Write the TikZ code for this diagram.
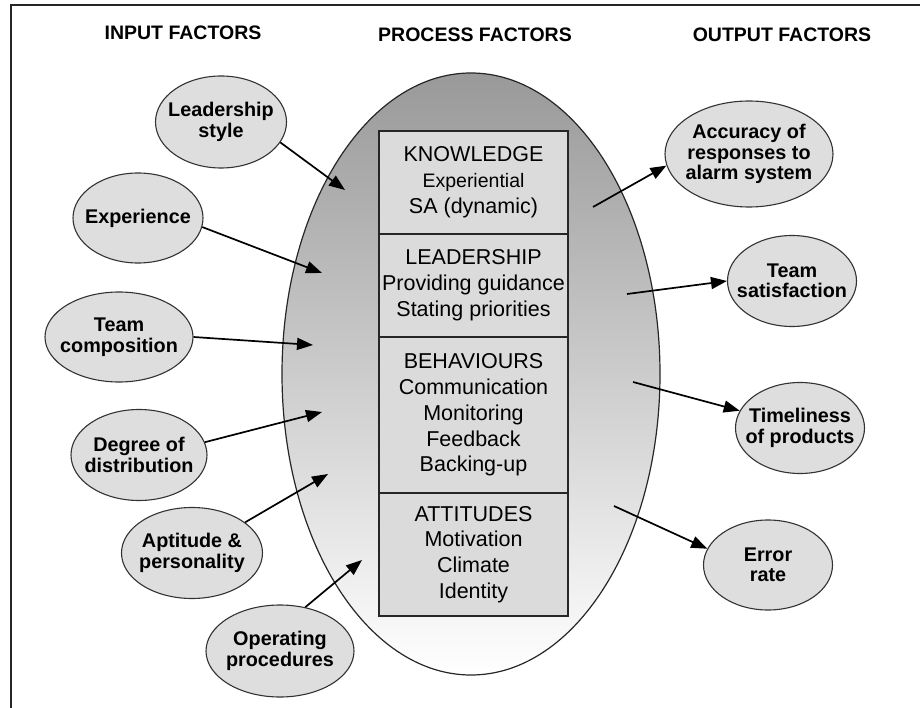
\documentclass[tikz,border=0pt]{standalone}
\usepackage{fontspec}
\setmainfont{Liberation Sans}
\usetikzlibrary{shapes.geometric,arrows.meta,positioning}

\begin{document}
\begin{tikzpicture}[x=1pt, y=-1pt,
    factor/.style ={ellipse, draw=black!80, line width=1.1pt, fill=black!13, inner xsep=-10pt, inner ysep=0pt, align=center, font=\bfseries\fontsize{19.8}{20.5}\selectfont},
    heading/.style ={font=\bfseries\fontsize{19.5}{20}\selectfont},
    processpart/.style ={rectangle, draw=black!85, line width=1.5pt, fill=black!14, minimum width=189pt, outer sep=0pt, inner sep=0pt, align=center, font=\fontsize{21.5}{25.8}\selectfont},
    influence/.style ={line width=1.7pt, -{Triangle[length=16pt,width=12pt]}}]
   \useasboundingbox (0,0) rectangle (920,708);
   \draw[line width=1.5pt, black!85] (11,708) -- (11,5) -- (920,5);

   \node[heading] (hin) at (183,33) {INPUT FACTORS};
   \node[heading] (hpr) at (475,35) {PROCESS FACTORS};
   \node[heading] (hout) at (782,35) {OUTPUT FACTORS};

   \node[ellipse, draw=black!85, line width=1.2pt, minimum width=378pt, minimum height=602pt,
     top color=black!40, middle color=black!24, bottom color=white] (P) at (471,374) {};

   \node[processpart, minimum height=103pt] (know) at (473.5,182.5) {KNOWLEDGE\\ \fontsize{19.5}{25}\selectfont Experiential\\ SA (dynamic)};
   \node[processpart, minimum height=103pt] (lead) [below=0pt of know] {LEADERSHIP\\ Providing guidance\\ Stating priorities};
   \node[processpart, minimum height=156pt] (behav) [below=0pt of lead] {BEHAVIOURS\\ Communication\\ Monitoring\\ Feedback\\ Backing-up};
   \node[processpart, minimum height=123pt] (attit) [below=0pt of behav] {ATTITUDES\\ Motivation\\ Climate\\ Identity};

   \node[factor, minimum width=131pt, minimum height=92pt] (LS) at (221,122) {Leadership\\ style};
   \node[factor, minimum width=130pt, minimum height=90pt] (EX) at (138,218) {Experience};
   \node[factor, minimum width=148pt, minimum height=90pt] (TC) at (119,337) {Team\\ composition};
   \node[factor, minimum width=136pt, minimum height=91pt] (DD) at (139,455) {Degree of\\ distribution};
   \node[factor, minimum width=141pt, minimum height=91pt] (AP) at (192,553) {Aptitude \&\\ personality};
   \node[factor, minimum width=148pt, minimum height=92pt] (OP) at (280,651) {Operating\\ procedures};

   \node[factor, minimum width=168pt, minimum height=106pt] (AC) at (749,154) {Accuracy of\\ responses to\\ alarm system};
   \node[factor, minimum width=129pt, minimum height=91pt] (TS) at (792,281) {Team\\ satisfaction};
   \node[factor, minimum width=129pt, minimum height=91pt] (TL) at (800,428) {Timeliness\\ of products};
   \node[factor, minimum width=129pt, minimum height=90pt] (ER) at (768,565) {Error\\ rate};

   \coordinate (cLS) at (345,190);
   \coordinate (cEX) at (322,273);
   \coordinate (cTC) at (313,345);
   \coordinate (cDD) at (322,412);
   \coordinate (cAP) at (328,474);
   \coordinate (cOP) at (362,560);
   \coordinate (cAC) at (593,207);
   \coordinate (cTS) at (627,294);
   \coordinate (cTL) at (633,382);
   \coordinate (cER) at (614,506);

   \draw[influence] (LS.-19) to (cLS);
   \draw[influence] (EX.-8) to (cEX);
   \draw[influence] (TC.east) to (cTC);
   \draw[influence] (DD.11) to (cDD);
   \draw[influence] (AP.30) to (cAP);
   \draw[influence] (OP.60) to (cOP);
   \draw[influence] (cAC) to (AC.188);
   \draw[influence] (cTS) to (TS.west);
   \draw[influence] (cTL) to (TL.164);
   \draw[influence] (cER) to (ER.165);
 \end{tikzpicture}
\end{document}
